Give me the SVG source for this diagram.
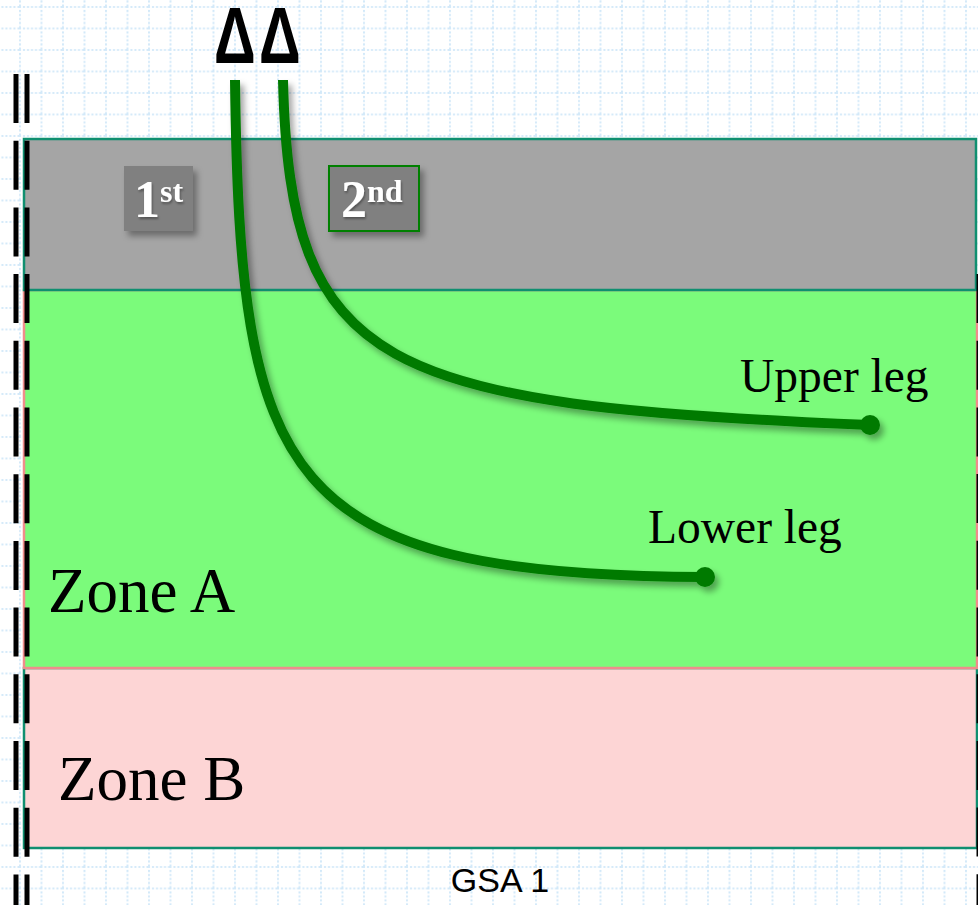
<svg xmlns="http://www.w3.org/2000/svg" width="978" height="905" viewBox="0 0 978 905">
<defs>
<pattern id="grid" x="19" y="6" width="21.5" height="21.5" patternUnits="userSpaceOnUse">
<line x1="1" y1="0" x2="1" y2="21.5" stroke="#d3e9f9" stroke-width="2" stroke-dasharray="2 2"/>
<line x1="0" y1="1" x2="21.5" y2="1" stroke="#d3e9f9" stroke-width="2" stroke-dasharray="2 2"/>
</pattern>
<filter id="sh" x="-20%" y="-20%" width="150%" height="150%">
<feDropShadow dx="4" dy="5" stdDeviation="3" flood-color="#000" flood-opacity="0.35"/>
</filter>
<filter id="tsh" x="-20%" y="-20%" width="150%" height="150%">
<feDropShadow dx="1" dy="2" stdDeviation="1" flood-color="#000" flood-opacity="0.35"/>
</filter>
</defs>
<style>
.band{stroke-width:2.5}
.wall{fill:none;stroke:#000;stroke-width:5;stroke-dasharray:49 17.7}
.leg{fill:none;stroke:#007a00;stroke-width:10;stroke-linecap:butt}
.end{fill:#007a00}
.serif{font-family:"Liberation Serif","Times New Roman",serif;fill:#000}
.ord{font-family:"Liberation Serif","Times New Roman",serif;font-weight:bold;fill:#fff}
.tag{fill:#808080}
</style>
<rect x="0" y="0" width="978" height="905" fill="#fff"/>
<rect x="0" y="0" width="978" height="905" fill="url(#grid)"/>

<g id="zone-b">
<rect class="band" x="24" y="668" width="953" height="180" fill="#fdd5d5" stroke="#0f8f70"/>
<text class="serif" x="58" y="800" font-size="63">Zone B</text>
</g>
<g id="zone-a">
<rect class="band" x="24" y="290" width="953" height="378" fill="#7bfb7b" stroke="#f08c8c"/>
<text class="serif" x="48" y="612" font-size="63">Zone A</text>
</g>
<g id="floor-band">
<rect class="band" x="24" y="139" width="952" height="151" fill="#a5a5a5" stroke="#0f8f70"/>
</g>

<g id="walls">
<line class="wall" x1="16" y1="74" x2="16" y2="905"/>
<line class="wall" x1="27" y1="74" x2="27" y2="905"/>
<line class="wall" x1="979" y1="274" x2="979" y2="905" stroke-width="7"/>
</g>

<g id="tag-1st" filter="url(#sh)">
<rect class="tag" x="124" y="166" width="69" height="65"/>
<text class="ord" x="134" y="217" font-size="52" filter="url(#tsh)">1<tspan font-size="32" dy="-15">st</tspan></text>
</g>
<g id="tag-2nd" filter="url(#sh)">
<rect class="tag" x="329" y="166" width="90" height="65" stroke="#008000" stroke-width="2"/>
<text class="ord" x="341" y="217" font-size="52" filter="url(#tsh)">2<tspan font-size="32" dy="-15">nd</tspan></text>
</g>

<g id="markers">
<text transform="translate(0,63) scale(1,1.37)" x="214 259" y="0" font-family="Liberation Sans, Arial, sans-serif" font-weight="bold" font-size="58" fill="#000">ΔΔ</text>
</g>

<g id="connectors" filter="url(#sh)">
<path class="leg" d="M235,80 C240,480 280,575 705,577"/>
<circle class="end" cx="705" cy="577" r="10"/>
<path class="leg" d="M283,80 C290,370 380,405 870,425"/>
<circle class="end" cx="870" cy="425" r="10"/>
</g>

<g id="labels">
<text class="serif" x="740" y="392" font-size="47.5">Upper leg</text>
<text class="serif" x="648" y="543" font-size="47.5">Lower leg</text>
<text x="500" y="892" font-family="Liberation Sans, Arial, sans-serif" font-size="34" text-anchor="middle" fill="#000">GSA 1</text>
</g>
</svg>
